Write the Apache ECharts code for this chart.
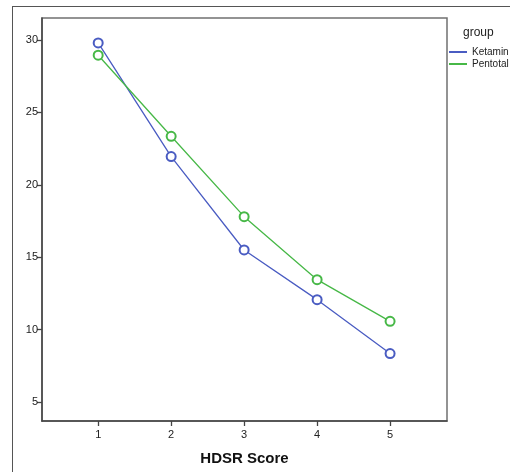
<!DOCTYPE html>
<html>
<head>
<meta charset="utf-8">
<script src="https://cdn.jsdelivr.net/npm/echarts@6/dist/echarts.min.js"></script>
<style>
  html, body { margin: 0; padding: 0; background: #fff; }
  #frame { position: absolute; left: 12px; top: 6px; width: 700px; height: 700px; border: 1px solid #555; }
  #main { position: absolute; left: 0; top: 0; width: 510px; height: 472px; }
</style>
</head>
<body>
<div id="frame"></div>
<div id="main"></div>
<script>
// HDSR score categories and group means
const scores = [1, 2, 3, 4, 5];
const ketamin = [29.8, 21.95, 15.5, 12.07, 8.35];
const pentotal = [28.95, 23.35, 17.8, 13.45, 10.57];
const yTicks = [5, 10, 15, 20, 25, 30];

const toPairs = (vals) => scores.map((s, i) => [s, vals[i]]);

const chart = echarts.init(document.getElementById('main'));

const lineSeries = (name, color, vals) => ({
  name: name,
  type: 'line',
  data: toPairs(vals),
  color: color,
  symbol: 'emptyCircle',
  symbolSize: 9,
  lineStyle: { width: 1.3, color: color },
  itemStyle: { color: color, borderWidth: 1 },
  animation: false,
});

chart.setOption({
  animation: false,
  title: {
    text: 'group',
    left: 458,
    top: 22,
    textStyle: { fontFamily: 'Liberation Sans', fontSize: 12, fontWeight: 'normal', color: '#222' },
  },
  legend: {
    orient: 'vertical',
    left: 444,
    top: 42,
    icon: 'rect',
    itemWidth: 18,
    itemHeight: 2,
    itemGap: 2,
    textStyle: { fontFamily: 'Liberation Sans', fontSize: 10, color: '#222' },
    data: ['Ketamin', 'Pentotal'],
  },
  grid: {
    left: 42,
    top: 18,
    right: 63,
    bottom: 51,
    show: true,
    borderColor: '#707070',
    borderWidth: 1.5,
  },
  xAxis: {
    type: 'value',
    min: 0.23,
    max: 5.78,
    name: 'HDSR Score',
    nameLocation: 'middle',
    nameGap: 30,
    nameTextStyle: { fontFamily: 'Liberation Sans', fontSize: 15, fontWeight: 'bold', color: '#111' },
    splitLine: { show: false },
    axisLine: { lineStyle: { color: '#444', width: 1.5 } },
    axisTick: { customValues: scores, length: 5, lineStyle: { color: '#444', width: 1.3 } },
    axisLabel: {
      customValues: scores,
      margin: 8,
      fontFamily: 'Liberation Sans',
      fontSize: 11,
      color: '#222',
    },
  },
  yAxis: {
    type: 'value',
    min: 3.69,
    max: 31.52,
    splitLine: { show: false },
    axisLine: { show: true, lineStyle: { color: '#444', width: 1.5 } },
    axisTick: { show: true, customValues: yTicks, length: 5, lineStyle: { color: '#444', width: 1.3 } },
    axisLabel: {
      customValues: yTicks,
      margin: 4,
      fontFamily: 'Liberation Sans',
      fontSize: 11,
      color: '#222',
    },
  },
  series: [
    lineSeries('Ketamin', '#4a5cc2', ketamin),
    lineSeries('Pentotal', '#47b847', pentotal),
  ],
});
</script>
</body>
</html>
